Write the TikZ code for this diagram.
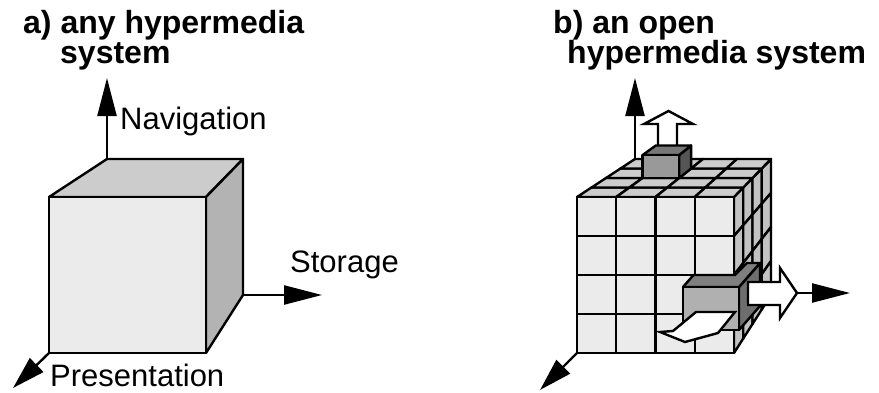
\documentclass[tikz,border=0pt]{standalone}
\usepackage{fontspec}
\setmainfont{Liberation Sans}
\usetikzlibrary{arrows.meta,calc}
\definecolor{cfront}{HTML}{EBEBEB}
\definecolor{ctop}{HTML}{CCCCCC}
\definecolor{cside}{HTML}{B3B3B3}
\definecolor{cside2}{HTML}{C2C2C2}
\definecolor{bfront}{HTML}{999999}
\definecolor{btop}{HTML}{777777}
\definecolor{bside}{HTML}{555555}
\definecolor{dfront}{HTML}{B0B0B0}
\definecolor{dtop}{HTML}{7F7F7F}
\definecolor{dside}{HTML}{6E6E6E}
\begin{document}
\begin{tikzpicture}[x=1pt,y=-1pt,
  edge/.style={line width=2.4pt,line join=round,draw=black},
  axis/.style={line width=2.4pt,-{Triangle[length=38pt,width=19pt]}},
  paxis/.style={line width=2.4pt,-{Triangle[length=33pt,width=19pt]}},
  hollow/.style={line width=2.4pt,line join=miter,draw=black,fill=white},
  titletext/.style={font=\fontsize{32}{32}\selectfont\bfseries,inner sep=0pt,anchor=base west},
  labeltext/.style={font=\fontsize{31}{31}\selectfont,inner sep=0pt,anchor=base west}]
\useasboundingbox (0,0) rectangle (879,392);

% ---------- titles ----------
\node[titletext] (ta1) at (23,33) {a) any hypermedia};
\node[titletext] (ta2) at (60,63) {system};
\node[titletext] (tb1) at (553,33) {b) an open};
\node[titletext] (tb2) at (567,63) {hypermedia system};

% ---------- left cube ----------
\coordinate (a1) at (49,197);
\coordinate (a2) at (206,197);
\coordinate (a3) at (206,353);
\coordinate (a4) at (49,353);
\coordinate (a5) at (107,159);
\coordinate (a6) at (243,159);
\coordinate (a7) at (243,295);
\coordinate (navA) at (107,78);
\coordinate (stoA) at (322,295);
\coordinate (preA) at (13,388);
\draw[edge,fill=ctop] (a1) -- (a5) -- (a6) -- (a2) -- cycle;
\draw[edge,fill=cside] (a2) -- (a6) -- (a7) -- (a3) -- cycle;
\draw[edge,fill=cfront] (a1) -- (a2) -- (a3) -- (a4) -- cycle;
\draw[axis] (a5) -- (navA);
\draw[axis] (a7) -- (stoA);
\draw[paxis] (a4) -- (preA);
\node[labeltext] (lnav) at (120,129) {Navigation};
\node[labeltext] (lsto) at (290,272) {Storage};
\node[labeltext] (lpre) at (50,386) {Presentation};

% ---------- right cube grid coordinates ----------
\foreach \i in {0,...,4}{\foreach \j in {0,...,4}{
  \coordinate (T\i\j) at ({(1-\j/4)*(577+157*\i/4)+\j/4*(635+136*\i/4)},{197-38*\j/4});
  \coordinate (R\i\j) at ({734+37*\i/4},{(1-\i/4)*(197+156*\j/4)+\i/4*(159+136*\j/4)});
  \coordinate (F\i\j) at ({577+157*\i/4},{197+156*\j/4});
}}
% right face
\foreach \i in {0,...,3}{\foreach \j in {0,...,3}{
  \pgfmathtruncatemacro\ii{\i+1}\pgfmathtruncatemacro\jj{\j+1}
  \draw[edge,fill=cside2] (R\i\j) -- (R\ii\j) -- (R\ii\jj) -- (R\i\jj) -- cycle;
}}
% top face
\foreach \i in {0,...,3}{\foreach \j in {0,...,3}{
  \pgfmathtruncatemacro\ii{\i+1}\pgfmathtruncatemacro\jj{\j+1}
  \draw[edge,fill=ctop] (T\i\j) -- (T\ii\j) -- (T\ii\jj) -- (T\i\jj) -- cycle;
}}
% navigation axis
\coordinate (navB) at (635,78);
\draw[axis] (T04) -- (navB);
% hollow up arrow
\draw[hollow] (658,147) -- (677,147) -- (677,124) -- (693,124) -- (668.5,111)
  -- (644,124) -- (658,124) -- cycle;
% raised block on top
\coordinate (u12) at ($(T12)+(0,-23)$);
\coordinate (u22) at ($(T22)+(0,-23)$);
\coordinate (u23) at ($(T23)+(0,-23)$);
\coordinate (u13) at ($(T13)+(0,-23)$);
\draw[edge,fill=bside] (T22) -- (T23) -- (u23) -- (u22) -- cycle;
\draw[edge,fill=btop] (u12) -- (u22) -- (u23) -- (u13) -- cycle;
\draw[edge,fill=bfront] (T12) -- (T22) -- (u22) -- (u12) -- cycle;
% front face
\foreach \i in {0,...,3}{\foreach \j in {0,...,3}{
  \pgfmathtruncatemacro\ii{\i+1}\pgfmathtruncatemacro\jj{\j+1}
  \draw[edge,fill=cfront] (F\i\j) -- (F\ii\j) -- (F\ii\jj) -- (F\i\jj) -- cycle;
}}
% pulled-out drawer
\coordinate (dA) at (683,287);
\coordinate (dB) at (739,287);
\coordinate (dC) at (739,330);
\coordinate (dD) at (683,330);
\coordinate (dB2) at (760,263);
\coordinate (dC2) at (760,306);
\draw[edge,fill=dside] (dB) -- (dB2) -- (dC2) -- (dC) -- cycle;
\draw[edge,fill=dtop] (dA) -- (693.5,275) -- (735,275) -- (747,263) -- (dB2) -- (dB) -- cycle;
\draw[edge,fill=dfront] (dA) -- (dB) -- (dC) -- (dD) -- cycle;
% white sheet pointing towards the viewer
\draw[hollow] (696,312) -- (735,312) -- (718,333) -- (685,342) -- (660,332)
  -- (673,331) -- cycle;
% white arrow pointing right
\coordinate (wtip) at (797,293);
\draw[hollow] (748,282) -- (780,282) -- (780,268) -- (wtip) -- (780,318)
  -- (780,305) -- (748,305) -- cycle;
\coordinate (stoB) at (850,293);
\draw[axis] (wtip) -- (stoB);
% presentation axis
\coordinate (preB) at (540,390);
\draw[paxis] (F04) -- (preB);
\end{tikzpicture}
\end{document}
